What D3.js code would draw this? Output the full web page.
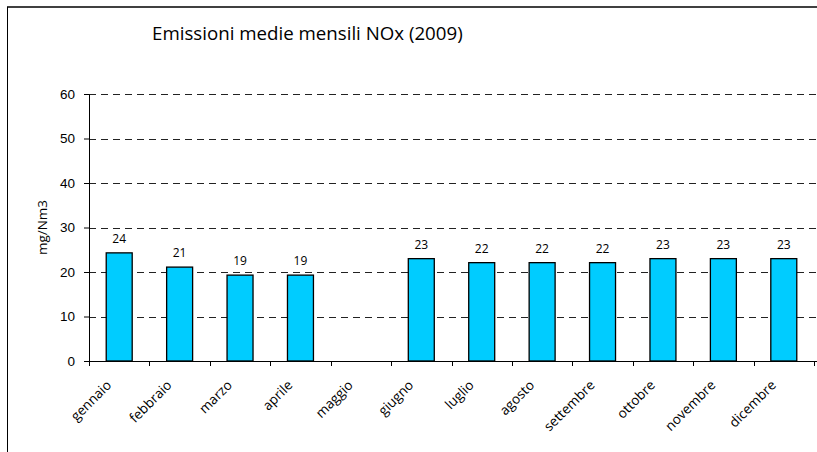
<!DOCTYPE html>
<html>
<head>
<meta charset="utf-8">
<script src="https://cdn.jsdelivr.net/npm/d3@7"></script>
<style>
  body { margin: 0; background: #fff; }
  svg { display: block; font-family: "Open Sans", sans-serif; }
</style>
</head>
<body>
<script>
const width = 817
const height = 452

// data
const months = ["gennaio", "febbraio", "marzo", "aprile", "maggio", "giugno",
    "luglio", "agosto", "settembre", "ottobre", "novembre", "dicembre"];
const values = [24.3, 21.1, 19.3, 19.3, null, 23.0, 22.1, 22.1, 22.1, 23.0, 23.0, 23.0];
const yTicks = [0, 10, 20, 30, 40, 50, 60];

const margin = {top: 94, left: 89, right: 3, bottom: 91};

const svg = d3.select("body").append("svg")
    .attr("width", width)
    .attr("height", height);

// outer frame (top and left edges only are visible)
svg.append("path")
    .attr("d", "M7,7H817")
    .attr("stroke", "#404040")
    .attr("stroke-width", 2);
svg.append("path")
    .attr("d", "M7.5,7V452")
    .attr("stroke", "#000")
    .attr("stroke-width", 1);

const x = d3.scaleBand()
    .domain(months)
    .range([margin.left, margin.left + 725])
    .paddingInner(0.57)
    .paddingOuter(0.285);

const y = d3.scaleLinear()
    .domain([0, 60])
    .range([height - margin.bottom, margin.top]);

// dashed gridlines
svg.append("g")
    .selectAll("line")
    .data(yTicks.filter(d => d > 0))
    .enter()
    .append("line")
    .attr("x1", margin.left)
    .attr("x2", width)
    .attr("y1", d => Math.round(y(d)) + 0.5)
    .attr("y2", d => Math.round(y(d)) + 0.5)
    .attr("stroke", "#222")
    .attr("stroke-dasharray", "7,5");

// bars
const data = months.map((m, i) => ({month: m, value: values[i]})).filter(d => d.value != null);

svg.append("g")
    .selectAll("rect")
    .data(data)
    .enter()
    .append("rect")
    .attr("x", d => x(d.month))
    .attr("y", d => y(d.value))
    .attr("width", x.bandwidth())
    .attr("height", d => y(0) - y(d.value))
    .attr("fill", "#00CCFF")
    .attr("stroke", "#000")
    .attr("stroke-width", 1.3);

// value labels
svg.append("g")
    .selectAll("text")
    .data(data)
    .enter()
    .append("text")
    .attr("x", d => x(d.month) + x.bandwidth() / 2)
    .attr("y", d => y(d.value) - 10)
    .attr("text-anchor", "middle")
    .style("font-size", "12px")
    .text(d => Math.round(d.value));

// y axis
const yAxis = svg.append("g")
    .attr("transform", `translate(${margin.left},0)`)
    .call(d3.axisLeft(y).tickValues(yTicks).tickSize(5).tickPadding(9).tickSizeOuter(0));
yAxis.selectAll("text").style("font-size", "13.5px").attr("fill", "#000");
yAxis.select(".domain").attr("stroke", "#000");

// x axis: ticks at band boundaries
const xBounds = d3.range(months.length + 1).map(i => margin.left + i * x.step());
const xAxis = svg.append("g");
xAxis.append("line")
    .attr("x1", margin.left)
    .attr("x2", width)
    .attr("y1", y(0) + 0.5)
    .attr("y2", y(0) + 0.5)
    .attr("stroke", "#000");
xAxis.selectAll(".tick")
    .data(xBounds)
    .enter()
    .append("line")
    .attr("x1", d => Math.round(d) + 0.5)
    .attr("x2", d => Math.round(d) + 0.5)
    .attr("y1", y(0))
    .attr("y2", y(0) + 5)
    .attr("stroke", "#000");

xAxis.selectAll("text")
    .data(months)
    .enter()
    .append("text")
    .attr("transform", d => `translate(${x(d) + x.bandwidth() / 2 - 7},${y(0) + 25}) rotate(-45)`)
    .attr("text-anchor", "end")
    .style("font-size", "13.5px")
    .text(d => d);

// y label
svg.append("text")
    .attr("transform", `translate(47,${y(30)}) rotate(-90)`)
    .attr("text-anchor", "middle")
    .style("font-size", "13.5px")
    .text("mg/Nm3");

// title
svg.append("text")
    .attr("x", 152)
    .attr("y", 40)
    .style("font-size", "18.7px")
    .text("Emissioni medie mensili NOx (2009)");
</script>
</body>
</html>
